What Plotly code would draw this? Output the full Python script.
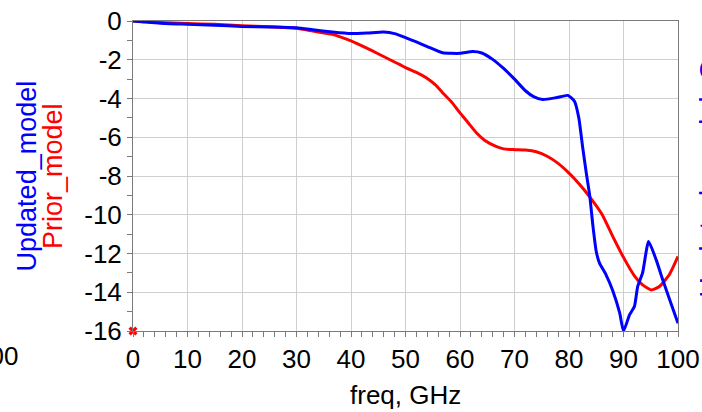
import plotly.graph_objects as go

# Frequency sweep (GHz) and transmission (dB) for the two models
updated_freq = [0, 2, 5, 10, 15, 20, 25, 30, 33, 36.6, 40, 43, 46, 48, 50, 52, 54, 56.8,
                60, 62.3, 64, 66, 68, 70, 72, 73.5, 75.2, 77.6, 79.8, 81, 81.8, 82.5,
                83.2, 83.8, 84.4, 85, 85.6, 86.8, 88, 89.3, 90, 91.1, 92, 92.6, 93.5,
                94.6, 96, 97.2, 98.7, 100]
updated_db = [0, -0.05, -0.12, -0.17, -0.22, -0.28, -0.31, -0.35, -0.45, -0.57, -0.65,
              -0.62, -0.57, -0.65, -0.86, -1.08, -1.32, -1.64, -1.67, -1.58, -1.65,
              -1.98, -2.45, -3.0, -3.6, -3.9, -4.05, -3.96, -3.84, -4.14, -5.0, -6.5,
              -7.9, -9.0, -10.6, -11.9, -12.5, -13.1, -13.9, -15.07, -16.0, -15.17,
              -14.74, -13.71, -13.0, -11.38, -12.33, -13.36, -14.57, -15.6]

prior_freq = [0, 5, 10, 15, 20, 25, 30, 33, 36.6, 40, 42.5, 44.6, 46.8, 48.9, 50, 52,
              53.8, 55.5, 56.8, 58.5, 60, 61.5, 63, 64.5, 66.6, 68, 70, 72, 74, 76, 78,
              80, 82, 84, 86, 88, 90, 92, 93.5, 95.1, 96.6, 98.4, 100]
prior_db = [0, -0.08, -0.13, -0.17, -0.25, -0.3, -0.38, -0.52, -0.69, -1.03, -1.35,
            -1.64, -1.95, -2.24, -2.41, -2.65, -2.93, -3.3, -3.7, -4.2, -4.74, -5.25,
            -5.77, -6.15, -6.47, -6.6, -6.64, -6.66, -6.75, -6.98, -7.35, -7.85, -8.45,
            -9.15, -9.95, -11.1, -12.2, -13.15, -13.62, -13.88, -13.7, -13.1, -12.15]

# Marker point at the origin corner
marker_freq = [0]
marker_db = [-16]

x_ticks = list(range(0, 101, 10))
y_ticks = list(range(-16, 1, 2))

FONT = "Liberation Sans, Arial, sans-serif"
AXIS_GRAY = "#7a7a7a"
GRID_GRAY = "#cfcfcf"

fig = go.Figure()
fig.add_trace(go.Scatter(x=prior_freq, y=prior_db, mode="lines",
                         line=dict(color="#ff0000", width=3, shape="spline", smoothing=0.5),
                         name="Prior_model"))
fig.add_trace(go.Scatter(x=updated_freq, y=updated_db, mode="lines",
                         line=dict(color="#0000ff", width=3, shape="spline", smoothing=0.5),
                         name="Updated_model"))
fig.add_trace(go.Scatter(x=marker_freq, y=marker_db, mode="markers", cliponaxis=False,
                         marker=dict(symbol="x", size=8, color="#ff0000",
                                     line=dict(width=0)),
                         showlegend=False))

fig.update_layout(
    width=702, height=412,
    margin=dict(l=133, r=24, t=21, b=81),
    paper_bgcolor="white", plot_bgcolor="white",
    showlegend=False,
    font=dict(family=FONT, size=26, color="black"),
    xaxis=dict(range=[0, 100], tickvals=x_ticks, ticktext=[str(v) for v in x_ticks],
               automargin=False,
               showgrid=True, gridcolor=GRID_GRAY, gridwidth=1, zeroline=False,
               showline=True, linecolor=AXIS_GRAY, linewidth=1, mirror=True,
               ticks="outside", ticklen=5, tickcolor=AXIS_GRAY,
               minor=dict(dtick=2, ticks="outside", ticklen=5, tickcolor=AXIS_GRAY,
                          showgrid=False),
               tickfont=dict(family=FONT, size=26, color="black")),
    yaxis=dict(range=[-16, 0], tickvals=y_ticks, ticktext=[str(v) for v in y_ticks],
               automargin=False,
               showgrid=True, gridcolor=GRID_GRAY, gridwidth=1, zeroline=False,
               showline=True, linecolor=AXIS_GRAY, linewidth=1, mirror=True,
               ticks="outside", ticklen=5, tickcolor=AXIS_GRAY,
               minor=dict(dtick=1, ticks="outside", ticklen=5, tickcolor=AXIS_GRAY,
                          showgrid=False),
               tickfont=dict(family=FONT, size=26, color="black")),
)

annotations = [
    dict(text="freq, GHz", x=0.5, y=-0.206, xref="paper", yref="paper",
         xanchor="center", yanchor="middle", showarrow=False,
         font=dict(family=FONT, size=26, color="black")),
    dict(text="Updated_model", x=-0.1937, y=0.5, xref="paper", yref="paper",
         xanchor="center", yanchor="middle", textangle=-90, showarrow=False,
         font=dict(family=FONT, size=27, color="#0000ff")),
    dict(text="Prior_model", x=-0.1467, y=0.5, xref="paper", yref="paper",
         xanchor="center", yanchor="middle", textangle=-90, showarrow=False,
         font=dict(family=FONT, size=27, color="#ff0000")),
    # neighbouring panels: x tick label on the left, y title on the right
    dict(text="100", x=-0.208, y=-0.081, xref="paper", yref="paper",
         xanchor="right", yanchor="middle", showarrow=False,
         font=dict(family=FONT, size=26, color="black")),
    dict(text="Updated_model_O", x=1.0224, y=0.10, xref="paper", yref="paper",
         xanchor="left", yanchor="bottom", textangle=-90, showarrow=False,
         font=dict(family=FONT, size=28.5, color="#0000ff")),
]
fig.update_layout(annotations=annotations)

fig.write_html("out.html")
